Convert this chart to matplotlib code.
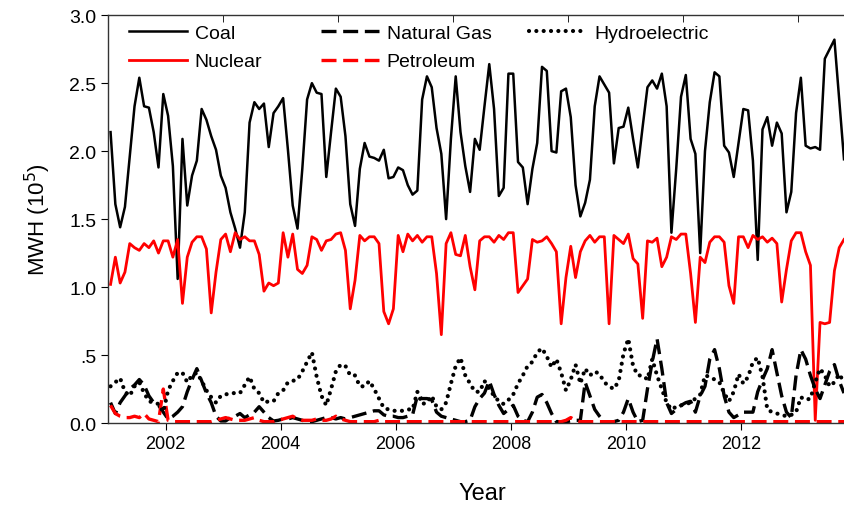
import numpy as np
import matplotlib
matplotlib.use("Agg")
import matplotlib.pyplot as plt
from matplotlib.ticker import FixedLocator, FuncFormatter

plt.rcParams['font.family'] = ['Liberation Sans', 'DejaVu Sans']

# Monthly generation, Jan 2001 - Oct 2013 (MWH x 10^5)
coal = [
    2.14, 1.61, 1.44, 1.59, 1.96, 2.33, 2.54, 2.33, 2.32, 2.14, 1.88, 2.42,
    2.26, 1.89, 1.06, 2.09, 1.60, 1.82, 1.93, 2.31, 2.23, 2.11, 2.01, 1.82,
    1.73, 1.55, 1.43, 1.29, 1.55, 2.21, 2.36, 2.31, 2.35, 2.03, 2.28, 2.33,
    2.39, 2.01, 1.60, 1.43, 1.87, 2.38, 2.50, 2.43, 2.42, 1.81, 2.14, 2.46,
    2.40, 2.11, 1.61, 1.45, 1.87, 2.06, 1.96, 1.95, 1.93, 2.01, 1.80, 1.81,
    1.88, 1.86, 1.75, 1.68, 1.71, 2.38, 2.55, 2.47, 2.17, 1.98, 1.50, 2.09,
    2.55, 2.14, 1.89, 1.70, 2.09, 2.01, 2.33, 2.64, 2.31, 1.67, 1.73, 2.57,
    2.57, 1.92, 1.88, 1.61, 1.87, 2.06, 2.62, 2.59, 2.00, 1.99, 2.44, 2.46,
    2.25, 1.75, 1.52, 1.62, 1.79, 2.33, 2.55, 2.49, 2.43, 1.91, 2.17, 2.18,
    2.32, 2.09, 1.88, 2.18, 2.47, 2.52, 2.46, 2.57, 2.33, 1.40, 1.87, 2.40,
    2.56, 2.09, 1.98, 1.25, 2.00, 2.36, 2.58, 2.55, 2.04, 1.99, 1.81, 2.06,
    2.31, 2.30, 1.93, 1.20, 2.16, 2.25, 2.04, 2.21, 2.13, 1.55, 1.70, 2.28,
    2.54, 2.04, 2.02, 2.03, 2.01, 2.68, 2.75, 2.82, 2.38, 1.94,
]
nuclear = [
    1.02, 1.22, 1.03, 1.11, 1.32, 1.29, 1.27, 1.32, 1.29, 1.34, 1.25, 1.34,
    1.34, 1.22, 1.35, 0.88, 1.22, 1.33, 1.37, 1.37, 1.28, 0.81, 1.11, 1.35,
    1.39, 1.26, 1.40, 1.35, 1.37, 1.34, 1.34, 1.24, 0.97, 1.03, 1.01, 1.03,
    1.40, 1.22, 1.39, 1.13, 1.10, 1.16, 1.37, 1.35, 1.27, 1.34, 1.35, 1.39,
    1.40, 1.27, 0.84, 1.05, 1.38, 1.34, 1.37, 1.37, 1.32, 0.82, 0.73, 0.84,
    1.38, 1.26, 1.39, 1.34, 1.38, 1.33, 1.37, 1.37, 1.10, 0.65, 1.32, 1.40,
    1.24, 1.23, 1.38, 1.15, 0.98, 1.34, 1.37, 1.37, 1.33, 1.38, 1.35, 1.40,
    1.40, 0.96, 1.01, 1.06, 1.35, 1.33, 1.34, 1.37, 1.32, 1.26, 0.73, 1.07,
    1.30, 1.07, 1.26, 1.34, 1.38, 1.33, 1.37, 1.37, 0.73, 1.38, 1.35, 1.32,
    1.39, 1.21, 1.17, 0.77, 1.34, 1.33, 1.36, 1.15, 1.22, 1.37, 1.35, 1.39,
    1.39, 1.10, 0.74, 1.22, 1.18, 1.33, 1.37, 1.37, 1.33, 1.01, 0.88, 1.37,
    1.37, 1.29, 1.38, 1.35, 1.37, 1.33, 1.36, 1.32, 0.89, 1.13, 1.34, 1.40,
    1.40, 1.26, 1.16, 0.02, 0.74, 0.73, 0.74, 1.12, 1.29, 1.35,
]
natural_gas = [
    0.15, 0.07, 0.15, 0.20, 0.25, 0.28, 0.32, 0.28, 0.20, 0.15, 0.13, 0.08,
    0.03, 0.05, 0.08, 0.12, 0.23, 0.32, 0.40, 0.31, 0.22, 0.15, 0.05, 0.015,
    0.015, 0.04, 0.05, 0.07, 0.04, 0.06, 0.08, 0.12, 0.08, 0.04, 0.015, 0.02,
    0.03, 0.03, 0.04, 0.03, 0.02, 0.01, 0.01, 0.02, 0.03, 0.04, 0.04, 0.03,
    0.04, 0.03, 0.04, 0.05, 0.06, 0.07, 0.08, 0.09, 0.09, 0.06, 0.05, 0.05,
    0.04, 0.04, 0.05, 0.06, 0.20, 0.18, 0.18, 0.17, 0.08, 0.05, 0.04, 0.03,
    0.02, 0.01, 0.01, 0.02, 0.12, 0.18, 0.22, 0.31, 0.21, 0.13, 0.07, 0.10,
    0.13, 0.05, 0.02, 0.01, 0.08, 0.19, 0.21, 0.15, 0.07, 0.01, 0.01, 0.01,
    0.015, 0.02, 0.02, 0.30, 0.20, 0.10, 0.05, 0.01, 0.01, 0.01, 0.02, 0.08,
    0.18, 0.08, 0.01, 0.02, 0.25, 0.45, 0.62, 0.40, 0.15, 0.07, 0.10, 0.13,
    0.15, 0.16, 0.08, 0.20, 0.27, 0.47, 0.54, 0.40, 0.20, 0.08, 0.04, 0.06,
    0.08, 0.08, 0.08, 0.23, 0.32, 0.40, 0.54, 0.37, 0.20, 0.08, 0.04, 0.35,
    0.54, 0.47, 0.35, 0.25, 0.18, 0.28, 0.38, 0.43, 0.31, 0.22,
]
petroleum = [
    0.13, 0.07, 0.05, 0.04, 0.04, 0.05, 0.04, 0.07, 0.03, 0.02, 0.01, 0.25,
    0.02, 0.01, 0.01, 0.01, 0.01, 0.01, 0.01, 0.01, 0.01, 0.01, 0.02, 0.03,
    0.04, 0.03, 0.02, 0.02, 0.02, 0.03, 0.04, 0.02, 0.01, 0.01, 0.01, 0.02,
    0.03, 0.04, 0.05, 0.03, 0.02, 0.02, 0.02, 0.03, 0.02, 0.02, 0.03, 0.05,
    0.03, 0.02, 0.01, 0.01, 0.01, 0.01, 0.01, 0.01, 0.02, 0.01, 0.01, 0.01,
    0.01, 0.01, 0.01, 0.01, 0.01, 0.01, 0.01, 0.01, 0.01, 0.01, 0.01, 0.01,
    0.01, 0.01, 0.01, 0.01, 0.01, 0.01, 0.01, 0.01, 0.01, 0.01, 0.01, 0.01,
    0.01, 0.01, 0.01, 0.01, 0.01, 0.01, 0.01, 0.01, 0.01, 0.01, 0.01, 0.02,
    0.04, 0.02, 0.01, 0.01, 0.01, 0.01, 0.01, 0.01, 0.01, 0.01, 0.01, 0.01,
    0.01, 0.01, 0.01, 0.01, 0.01, 0.01, 0.01, 0.01, 0.01, 0.01, 0.01, 0.01,
    0.01, 0.01, 0.01, 0.01, 0.01, 0.01, 0.01, 0.01, 0.01, 0.01, 0.01, 0.01,
    0.01, 0.01, 0.01, 0.01, 0.01, 0.01, 0.01, 0.01, 0.01, 0.01, 0.01, 0.01,
    0.01, 0.01, 0.01, 0.01, 0.01, 0.01, 0.01, 0.01, 0.01, 0.01,
]
hydro = [
    0.27, 0.30, 0.33, 0.23, 0.20, 0.27, 0.30, 0.22, 0.16, 0.15, 0.14, 0.08,
    0.24, 0.31, 0.37, 0.37, 0.30, 0.35, 0.37, 0.31, 0.24, 0.19, 0.15, 0.20,
    0.21, 0.22, 0.22, 0.22, 0.28, 0.34, 0.25, 0.22, 0.15, 0.16, 0.16, 0.22,
    0.24, 0.30, 0.31, 0.32, 0.38, 0.45, 0.52, 0.34, 0.20, 0.13, 0.25, 0.38,
    0.43, 0.42, 0.35, 0.35, 0.27, 0.27, 0.31, 0.25, 0.18, 0.11, 0.10, 0.09,
    0.09, 0.09, 0.10, 0.10, 0.23, 0.14, 0.15, 0.20, 0.12, 0.10, 0.15, 0.29,
    0.42, 0.48, 0.35, 0.29, 0.23, 0.23, 0.31, 0.25, 0.20, 0.16, 0.14, 0.17,
    0.21, 0.29, 0.35, 0.42, 0.45, 0.52, 0.55, 0.49, 0.41, 0.47, 0.37, 0.24,
    0.32, 0.43, 0.29, 0.40, 0.35, 0.38, 0.36, 0.30, 0.27, 0.25, 0.31, 0.51,
    0.62, 0.42, 0.35, 0.35, 0.32, 0.47, 0.35, 0.25, 0.15, 0.10, 0.12, 0.13,
    0.14, 0.15, 0.18, 0.21, 0.35, 0.34, 0.32, 0.30, 0.22, 0.16, 0.23, 0.36,
    0.29, 0.34, 0.45, 0.48, 0.34, 0.10, 0.08, 0.07, 0.06, 0.05, 0.06, 0.08,
    0.19, 0.17, 0.18, 0.30, 0.40, 0.35, 0.27, 0.30, 0.36, 0.30,
]

# mid-month positions
year = 2001 + (np.arange(len(coal)) + 0.5) / 12

fig = plt.figure(figsize=(8.45, 5.06), dpi=100)
ax = fig.add_axes([0.128, 0.162, 0.885, 0.806])

l_coal, = ax.plot(year, coal, color='black', lw=1.8, label='Coal')
l_nuc, = ax.plot(year, nuclear, color='red', lw=2.0, label='Nuclear')
l_gas, = ax.plot(year, natural_gas, color='black', lw=2.4, linestyle=(0, (4.5, 2.0)), label='Natural Gas')
l_pet, = ax.plot(year, petroleum, color='red', lw=2.4, linestyle=(0, (4.5, 2.0)), label='Petroleum')
l_hyd, = ax.plot(year, hydro, color='black', lw=3.0, linestyle=(0, (0.01, 1.75)),
                 dash_capstyle='round', label='Hydroelectric')

ax.set_xlim(2001.0, 2014.0)
ax.set_ylim(0, 3.0)

ax.xaxis.set_major_locator(FixedLocator([2002, 2004, 2006, 2008, 2010, 2012]))
ax.xaxis.set_minor_locator(FixedLocator([2003, 2005, 2007, 2009, 2011, 2013]))
ax.set_yticks([0, 0.5, 1.0, 1.5, 2.0, 2.5, 3.0])
ax.yaxis.set_major_formatter(FuncFormatter(lambda v, p: '.5' if v == 0.5 else f'{v:.1f}'))

ax.tick_params(axis='x', which='major', direction='out', length=5, bottom=True, top=False, labelsize=13)
ax.tick_params(axis='x', which='minor', direction='in', length=5, bottom=False, top=True)
ax.tick_params(axis='y', direction='out', length=5, labelsize=14)
for s in ax.spines.values():
    s.set_linewidth(1.0)
    s.set_color('#333333')

ax.set_xlabel('Year', fontsize=17, labelpad=22)
ax.set_ylabel('MWH (10$^5$)', fontsize=16, labelpad=12)

leg_kw = dict(frameon=False, fontsize=14, handlelength=3.0, labelspacing=0.55,
              handletextpad=0.4)
leg1 = ax.legend([l_coal, l_nuc, l_gas, l_pet], ['Coal', 'Nuclear', 'Natural Gas', 'Petroleum'],
                 loc='upper left', bbox_to_anchor=(0.004, 1.02), ncol=2,
                 columnspacing=3.0, **leg_kw)
ax.add_artist(leg1)
ax.legend([l_hyd], ['Hydroelectric'], loc='upper left', bbox_to_anchor=(0.539, 1.02), **leg_kw)

fig.savefig('out.png', dpi=100)
